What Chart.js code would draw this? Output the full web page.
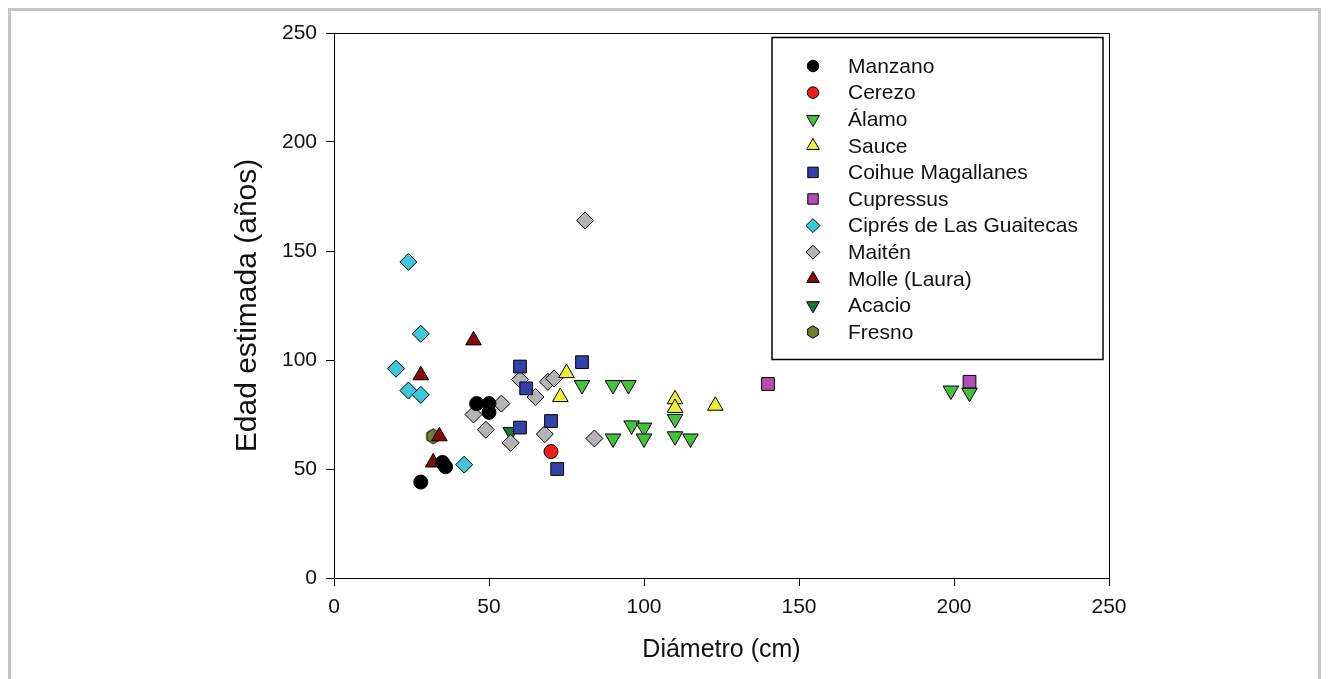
<!DOCTYPE html>
<html>
<head>
<meta charset="utf-8">
<script src="https://cdn.jsdelivr.net/npm/chart.js"></script>
<style>
  body { margin: 0; background: #fff; }
  #wrap { position: relative; width: 1330px; height: 679px; overflow: hidden; }
  #frame { position: absolute; left: 8px; top: 8px; width: 1313px; height: 700px;
           border: 3px solid #c4c4c4; border-bottom: none; box-sizing: border-box; }
  canvas { position: absolute; left: 0; top: 0; }
</style>
</head>
<body>
<div id="wrap">
  <div id="frame"></div>
  <canvas id="scatter" width="1330" height="679"></canvas>
</div>
<script>
// puntos [diámetro cm, edad años] por especie
const manzano = [[28, 44], [35, 53], [36, 51], [46, 80], [50, 80], [50, 76]];
const cerezo = [[70, 58]];
const alamo = [[80, 88.5], [90, 88.5], [95, 88.5], [96, 70], [100, 69], [90, 64], [100, 64],
               [110, 73], [110, 65], [115, 64], [199, 86], [205, 85]];
const sauce = [[73, 83], [75, 94], [110, 82], [110, 78], [123, 79]];
const coihue = [[60, 97], [62, 87], [80, 99], [60, 69], [70, 72], [72, 50]];
const cupressus = [[140, 89], [205, 90]];
const cipres = [[20, 96], [24, 145], [24, 86], [28, 112], [28, 84], [42, 52]];
const maiten = [[45, 75], [49, 68], [54, 80], [57, 62], [60, 91], [65, 83], [68, 66],
                [69, 90], [71, 91.5], [81, 164], [84, 64]];
const molle = [[28, 93], [32, 53], [34, 65], [45, 109]];
const acacio = [[57, 67]];
const fresno = [[32, 65]];

const speciesNames = ['Manzano', 'Cerezo', 'Álamo', 'Sauce', 'Coihue Magallanes', 'Cupressus',
  'Ciprés de Las Guaitecas', 'Maitén', 'Molle (Laura)', 'Acacio', 'Fresno'];
const speciesData = [manzano, cerezo, alamo, sauce, coihue, cupressus, cipres, maiten, molle, acacio, fresno];
const yTicks = [0, 50, 100, 150, 200, 250];

const FONT = "'Liberation Sans', Arial, sans-serif";

// hexagon marker for Fresno
function hexCanvas(r, fill) {
  const c = document.createElement('canvas');
  const s = Math.ceil(r * 2 + 2);
  c.width = s; c.height = s;
  const g = c.getContext('2d');
  g.beginPath();
  for (let i = 0; i < 6; i++) {
    const a = Math.PI / 6 + i * Math.PI / 3;
    const px = s / 2 + r * Math.cos(a), py = s / 2 + r * Math.sin(a);
    i ? g.lineTo(px, py) : g.moveTo(px, py);
  }
  g.closePath();
  g.fillStyle = fill; g.fill();
  g.strokeStyle = '#000'; g.lineWidth = 1; g.stroke();
  return c;
}

const styles = [
  { shape: 'circle', color: '#000000', r: 7, rot: 0 },
  { shape: 'circle', color: '#f01c1c', r: 7, rot: 0 },
  { shape: 'triangle', color: '#46c13c', r: 9, rot: 180 },
  { shape: 'triangle', color: '#f2ef3a', r: 9, rot: 0 },
  { shape: 'rect', color: '#3243a8', r: 9, rot: 0 },
  { shape: 'rect', color: '#b04fb8', r: 9, rot: 0 },
  { shape: 'rectRot', color: '#3cc8da', r: 8.5, rot: 0 },
  { shape: 'rectRot', color: '#b4b4b4', r: 8.5, rot: 0 },
  { shape: 'triangle', color: '#850c0c', r: 9, rot: 0 },
  { shape: 'triangle', color: '#19782a', r: 9, rot: 180 },
  { shape: 'hex', color: '#6e7d2b', r: 7.5, rot: 0 }
];

const datasets = speciesNames.map((name, i) => {
  const st = styles[i];
  return {
    label: name,
    data: speciesData[i].map(p => ({ x: p[0], y: p[1] })),
    pointStyle: st.shape === 'hex' ? hexCanvas(st.r, st.color) : st.shape,
    pointRadius: st.r,
    pointHoverRadius: st.r,
    pointRotation: st.rot,
    backgroundColor: st.color,
    borderColor: '#000',
    borderWidth: 1
  };
});

// legend box drawn inside plot, plus top/right frame lines
const boxPlugin = {
  id: 'boxLegend',
  afterDraw(chart) {
    const ctx = chart.ctx;
    const a = chart.chartArea;
    ctx.save();
    ctx.strokeStyle = '#000';
    ctx.lineWidth = 1;
    ctx.beginPath();
    ctx.moveTo(a.left, a.top + 0.5);
    ctx.lineTo(a.right + 0.5, a.top + 0.5);
    ctx.lineTo(a.right + 0.5, a.bottom);
    ctx.stroke();

    ctx.lineWidth = 1.5;
    ctx.strokeRect(772, 37.5, 331, 322);

    ctx.font = '21px ' + FONT;
    ctx.textBaseline = 'middle';
    speciesNames.forEach((name, i) => {
      const y = 66 + i * 26.6;
      const st = styles[i];
      drawMarker(ctx, st, 813, y, st.r * 0.82);
      ctx.fillStyle = '#111';
      ctx.fillText(name, 848, y + 1);
    });
    ctx.restore();
  }
};

function drawMarker(ctx, st, x, y, r) {
  ctx.save();
  ctx.fillStyle = st.color;
  ctx.strokeStyle = '#000';
  ctx.lineWidth = 1;
  ctx.beginPath();
  if (st.shape === 'circle') {
    ctx.arc(x, y, r, 0, Math.PI * 2);
  } else if (st.shape === 'rect') {
    const s = r * Math.SQRT1_2;
    ctx.rect(x - s, y - s, 2 * s, 2 * s);
  } else if (st.shape === 'rectRot') {
    ctx.moveTo(x, y - r); ctx.lineTo(x + r, y); ctx.lineTo(x, y + r); ctx.lineTo(x - r, y);
    ctx.closePath();
  } else if (st.shape === 'triangle') {
    const d = st.rot === 180 ? -1 : 1;
    ctx.moveTo(x, y - d * r);
    ctx.lineTo(x + r * 0.866, y + d * r * 0.5);
    ctx.lineTo(x - r * 0.866, y + d * r * 0.5);
    ctx.closePath();
  } else if (st.shape === 'hex') {
    for (let k = 0; k < 6; k++) {
      const ang = Math.PI / 6 + k * Math.PI / 3;
      const px = x + r * Math.cos(ang), py = y + r * Math.sin(ang);
      k ? ctx.lineTo(px, py) : ctx.moveTo(px, py);
    }
    ctx.closePath();
  }
  ctx.fill();
  ctx.stroke();
  ctx.restore();
}

const axisTicks = { color: '#111', font: { family: FONT, size: 21 }, padding: 9 };

new Chart(document.getElementById('scatter'), {
  type: 'scatter',
  data: { datasets: datasets },
  options: {
    responsive: false,
    animation: false,
    layout: { padding: { left: 0, top: 33, right: 221, bottom: 0 } },
    plugins: { legend: { display: false }, tooltip: { enabled: false } },
    scales: {
      x: {
        min: 0, max: 250,
        ticks: Object.assign({ stepSize: 50 }, axisTicks),
        grid: { drawOnChartArea: false, drawTicks: true, tickLength: 8, color: '#000' },
        border: { display: true, color: '#000', width: 1 },
        title: { display: true, text: 'Diámetro (cm)', color: '#111',
                 font: { family: FONT, size: 25 }, padding: { top: 0, bottom: 14 } },
        afterFit: s => { s.height = 101; }
      },
      y: {
        min: 0, max: 250,
        afterBuildTicks: s => { s.ticks = yTicks.map(v => ({ value: v })); },
        ticks: axisTicks,
        grid: { drawOnChartArea: false, drawTicks: true, tickLength: 8, color: '#000' },
        border: { display: true, color: '#000', width: 1 },
        title: { display: true, text: 'Edad estimada (años)', color: '#111',
                 font: { family: FONT, size: 30 }, padding: { top: 230, bottom: 0 } },
        afterFit: s => { s.width = 334; }
      }
    }
  },
  plugins: [boxPlugin]
});
</script>
</body>
</html>
